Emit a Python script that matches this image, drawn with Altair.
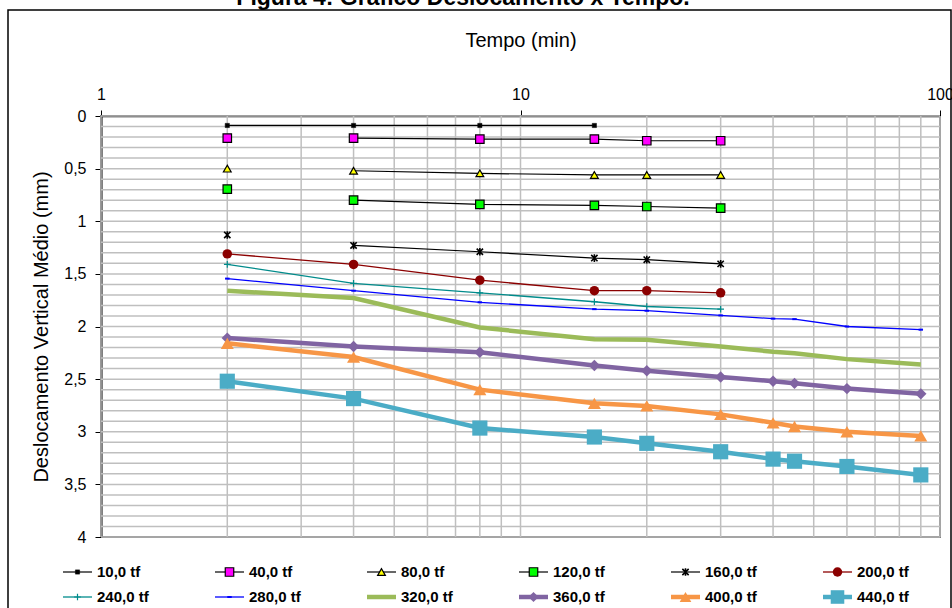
import altair as alt
import pandas as pd

# ---------------- data ----------------
times = [2, 4, 8, 15, 20, 30, 40, 45, 60, 90]
series_names = ["10,0 tf", "40,0 tf", "80,0 tf", "120,0 tf", "160,0 tf", "200,0 tf",
                "240,0 tf", "280,0 tf", "320,0 tf", "360,0 tf", "400,0 tf", "440,0 tf"]
d10 = [0.09, 0.09, 0.09, 0.09]
d40 = [0.21, 0.21, 0.22, 0.22, 0.235, 0.235]
d80 = [0.50, 0.52, 0.545, 0.56, 0.56, 0.56]
d120 = [0.695, 0.80, 0.84, 0.85, 0.86, 0.875]
d160 = [1.13, 1.23, 1.29, 1.35, 1.365, 1.405]
d200 = [1.31, 1.41, 1.56, 1.66, 1.66, 1.68]
d240 = [1.41, 1.59, 1.68, 1.765, 1.81, 1.835]
d280 = [1.545, 1.66, 1.77, 1.835, 1.85, 1.895, 1.925, 1.93, 2.0, 2.03]
d320 = [1.66, 1.73, 2.01, 2.12, 2.125, 2.19, 2.24, 2.255, 2.31, 2.36]
d360 = [2.11, 2.19, 2.245, 2.37, 2.42, 2.48, 2.52, 2.54, 2.59, 2.64]
d400 = [2.16, 2.29, 2.60, 2.73, 2.755, 2.835, 2.915, 2.95, 3.0, 3.04]
d440 = [2.52, 2.685, 2.965, 3.05, 3.11, 3.19, 3.26, 3.28, 3.33, 3.41]
values = [d10, d40, d80, d120, d160, d200, d240, d280, d320, d360, d400, d440]
# series whose first reading is not joined to the rest (gap in the record)
gap_after_first = ["40,0 tf", "80,0 tf", "120,0 tf", "160,0 tf"]

x_ticks = [1, 10, 100]
x_grid = [1, 2, 3, 4, 5, 6, 7, 8, 9, 10, 20, 30, 40, 50, 60, 70, 80, 90, 100]
y_ticks = [0, 0.5, 1, 1.5, 2, 2.5, 3, 3.5, 4]
y_grid = [round(i / 10, 1) for i in range(41)]

title_text = "Figura 4: Gráfico Deslocamento x Tempo."

# ---------------- styles ----------------
ASTER = "M-1,-1L1,1M-1,1L1,-1M0,-1.2L0,1.2"
PLUS = "M-1,0L1,0M0,-1L0,1"
DASH = "M-1,-0.45L1,-0.45L1,0.45L-1,0.45Z"
styles = {
    "10,0 tf": dict(line="#000000", lw=1.2, shape="square", fill="#000000", stroke="#000000", size=18, sw=0.5, filled=True),
    "40,0 tf": dict(line="#000000", lw=1.2, shape="square", fill="#FF00FF", stroke="#000000", size=72, sw=1.2, filled=True),
    "80,0 tf": dict(line="#000000", lw=1.2, shape="triangle-up", fill="#FFFF00", stroke="#000000", size=60, sw=1.2, filled=True),
    "120,0 tf": dict(line="#000000", lw=1.2, shape="square", fill="#00FF00", stroke="#000000", size=72, sw=1.2, filled=True),
    "160,0 tf": dict(line="#000000", lw=1.2, shape=ASTER, fill="#000000", stroke="#000000", size=40, sw=1.6, filled=False),
    "200,0 tf": dict(line="#8B0000", lw=1.3, shape="circle", fill="#8B0000", stroke="#8B0000", size=90, sw=0, filled=True),
    "240,0 tf": dict(line="#008B8B", lw=1.3, shape=PLUS, fill="#008B8B", stroke="#008B8B", size=45, sw=1.2, filled=False),
    "280,0 tf": dict(line="#0000FF", lw=1.3, shape=DASH, fill="#0000FF", stroke="#0000FF", size=20, sw=0, filled=True),
    "320,0 tf": dict(line="#9BBB59", lw=4.5, shape=None),
    "360,0 tf": dict(line="#8064A2", lw=4.5, shape="diamond", fill="#8064A2", stroke="#8064A2", size=130, sw=0, filled=True),
    "400,0 tf": dict(line="#F79646", lw=4.5, shape="triangle-up", fill="#F79646", stroke="#F79646", size=170, sw=0, filled=True),
    "440,0 tf": dict(line="#4BACC6", lw=4.5, shape="square", fill="#4BACC6", stroke="#4BACC6", size=230, sw=0, filled=True),
}

FONT = "Liberation Sans"
W, H = 839, 421

xs = alt.Scale(type="log", domain=[1, 100], range=[0, W])
ys = alt.Scale(domain=[0, 4], range=[0, H])
leg_x = alt.Scale(domain=[0, 5], range=[-38, 722])
leg_y = alt.Scale(domain=[0, 1], range=[456, 481])

layers = []

# gridlines + axes
gx = alt.Chart(pd.DataFrame({"g": x_grid})).mark_rule(color="#BFBFBF", strokeWidth=1.5).encode(
    x=alt.X("g:Q", scale=xs, axis=alt.Axis(
        orient="top", values=x_ticks, format="d", title="Tempo (min)", grid=False,
        labelFontSize=16, labelFont=FONT, labelColor="#000", labelPadding=8,
        tickSize=6, tickColor="#000", domainColor="#000", domainWidth=1.5,
        titleFontSize=20, titleFont=FONT, titleFontWeight="normal", titleColor="#000",
        titlePadding=36, labelFlush=False, labelOverlap=False))
)
gy = alt.Chart(pd.DataFrame({"g": y_grid})).mark_rule(color="#BFBFBF", strokeWidth=1.5).encode(
    y=alt.Y("g:Q", scale=ys, axis=alt.Axis(
        orient="left", values=y_ticks, labelExpr="replace(toString(datum.value), '.', ',')",
        title="Deslocamento Vertical Médio (mm)", grid=False,
        labelFontSize=16, labelFont=FONT, labelColor="#000", labelPadding=9,
        tickSize=6, tickColor="#000", domainColor="#000", domainWidth=2,
        titleFontSize=20, titleFont=FONT, titleFontWeight="normal", titleColor="#000",
        titlePadding=12, labelFlush=False, labelOverlap=False))
)
layers += [gx, gy]

# series
line_layers, point_layers, legend_layers = [], [], []
for i, name in enumerate(series_names):
    vals = values[i]
    ts = times[:len(vals)]
    seg = [0 if (name in gap_after_first and j == 0) else 1 for j in range(len(vals))]
    df = pd.DataFrame({"t": ts, "d": vals, "seg": seg})
    st = styles[name]
    base = alt.Chart(df)
    line_layers.append(base.mark_line(color=st["line"], strokeWidth=st["lw"]).encode(
        x=alt.X("t:Q", scale=xs, axis=None),
        y=alt.Y("d:Q", scale=ys, axis=None),
        detail="seg:N"))
    if st["shape"] is not None:
        pkw = dict(shape=st["shape"], size=st["size"], filled=st["filled"], opacity=1,
                   strokeWidth=st["sw"], stroke=st["stroke"])
        if st["filled"]:
            pkw["fill"] = st["fill"]
        point_layers.append(base.mark_point(**pkw).encode(
            x=alt.X("t:Q", scale=xs, axis=None),
            y=alt.Y("d:Q", scale=ys, axis=None)))
    # legend entry
    ldf = pd.DataFrame({"col": [i % 6], "row": [i // 6], "label": [name]})
    lb = alt.Chart(ldf)
    legend_layers.append(lb.mark_rule(color=st["line"], strokeWidth=st["lw"], x2Offset=29).encode(
        x=alt.X("col:Q", scale=leg_x, axis=None), x2="col:Q",
        y=alt.Y("row:Q", scale=leg_y, axis=None)))
    if st["shape"] is not None:
        pkw = dict(shape=st["shape"], size=st["size"] * (0.8 if st["size"] > 100 else 1),
                   filled=st["filled"], opacity=1, strokeWidth=st["sw"], stroke=st["stroke"], xOffset=14.5)
        if st["filled"]:
            pkw["fill"] = st["fill"]
        legend_layers.append(lb.mark_point(**pkw).encode(
            x=alt.X("col:Q", scale=leg_x, axis=None),
            y=alt.Y("row:Q", scale=leg_y, axis=None)))
    legend_layers.append(lb.mark_text(align="left", baseline="middle", dx=34, font=FONT,
                                      fontSize=15, fontWeight="bold", color="#000").encode(
        x=alt.X("col:Q", scale=leg_x, axis=None),
        y=alt.Y("row:Q", scale=leg_y, axis=None),
        text="label:N"))

layers += line_layers + point_layers + legend_layers

# outer frame and title
tdf = pd.DataFrame({"t": [title_text]})
frame = alt.Chart(tdf).mark_rect(fill=None, stroke="#000", strokeWidth=1.5).encode(
    x=alt.value(-93), x2=alt.value(850), y=alt.value(-106), y2=alt.value(500))
title = alt.Chart(tdf).mark_text(font=FONT, fontSize=23, fontWeight="bold", color="#000",
                                 align="center", baseline="alphabetic").encode(
    text="t:N", x=alt.value(362), y=alt.value(-111))
layers += [frame, title]

chart = alt.layer(*layers).resolve_scale(x="independent", y="independent").properties(
    width=W, height=H,
    autosize=alt.AutoSizeParams(type="none"),
    padding={"left": 101, "top": 116, "right": 952 - 101 - W, "bottom": 608 - 116 - H},
    background="white",
).configure_view(stroke="#222", strokeWidth=1.5)

chart.save("out.html", embed_options={"renderer": "svg", "actions": False})
